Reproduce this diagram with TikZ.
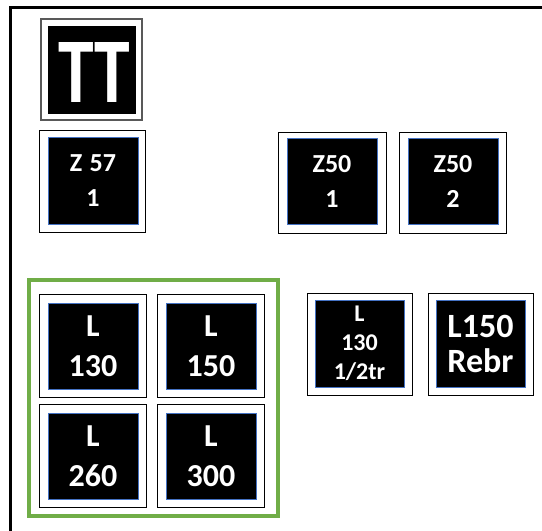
\documentclass[tikz,border=0pt]{standalone}
\usepackage{fontspec}
\setmainfont{Carlito}
\usepackage{graphicx}
\definecolor{tileblue}{RGB}{68,114,196}
\definecolor{grpgreen}{RGB}{112,173,71}
\begin{document}
\begin{tikzpicture}[x=1pt,y=-1pt,
  outerbox/.style={draw=black,line width=1pt,fill=white,inner sep=0pt,minimum width=#1},
  innerbox/.style={draw=tileblue,line width=1pt,fill=black,text=white,inner sep=0pt,align=center,font=\bfseries},
  tsmall/.style={font=\fontsize{26}{35}\selectfont\bfseries},
  tbig/.style={font=\fontsize{32}{40}\selectfont\bfseries},
  tthree/.style={font=\fontsize{24}{29}\selectfont\bfseries},
  trebr/.style={font=\fontsize{34}{35}\selectfont\bfseries}]
\useasboundingbox (0,0) rectangle (542,531);
\fill[white] (0,0) rectangle (542,531);
% frame
\draw[line width=3pt] (10.5,531) -- (10.5,7.5) -- (542,7.5);
% green group
\node[draw=grpgreen,line width=4pt,minimum width=249pt,minimum height=236pt,inner sep=0pt] (grp) at (153.5,398) {};
% TT
\node[draw=gray!70!black,line width=1.2pt,minimum width=101pt,minimum height=101pt,inner sep=0pt] (ttout) at (91.5,69.5) {};
\node[fill=black,minimum width=88pt,minimum height=88pt,inner sep=0pt] (ttin) at (92,70) {};
\node[text=white,inner sep=0pt] (tt) at (94,72) {\resizebox{72pt}{60pt}{\fontsize{80}{80}\selectfont\bfseries TT}};
% Z 57 1
\node[outerbox=106pt,minimum height=102pt] (z57o) at (92,181) {};
\node[innerbox,tsmall,minimum width=90pt,minimum height=87pt] (z57) at (93,180.5) {Z\hspace{0.28em}57\\1};
% Z50 1
\node[outerbox=108pt,minimum height=101pt] (z501o) at (332,182.5) {};
\node[innerbox,tsmall,minimum width=90pt,minimum height=86pt] (z501) at (332,181) {Z50\\1};
% Z50 2
\node[outerbox=107pt,minimum height=101pt] (z502o) at (452.5,182.5) {};
\node[innerbox,tsmall,minimum width=90pt,minimum height=86pt] (z502) at (453,181) {Z50\\2};
% L tiles in group
\node[outerbox=107pt,minimum height=103pt] (l130o) at (92.5,345.5) {};
\node[innerbox,tbig,minimum width=90pt,minimum height=86pt] (l130) at (93,346) {L\\130};
\node[outerbox=107pt,minimum height=103pt] (l150o) at (210.5,345.5) {};
\node[innerbox,tbig,minimum width=90pt,minimum height=86pt] (l150) at (211,346) {L\\150};
\node[outerbox=107pt,minimum height=103pt] (l260o) at (92.5,455.5) {};
\node[innerbox,tbig,minimum width=90pt,minimum height=86pt] (l260) at (93,456) {L\\260};
\node[outerbox=107pt,minimum height=103pt] (l300o) at (210.5,455.5) {};
\node[innerbox,tbig,minimum width=90pt,minimum height=86pt] (l300) at (211,456) {L\\300};
% L 130 1/2tr
\node[outerbox=105pt,minimum height=102pt] (lhalfo) at (359.5,344) {};
\node[innerbox,tthree,minimum width=89pt,minimum height=87pt] (lhalf) at (359.5,343.5) {L\\130\\1/2tr};
% L150 Rebr
\node[outerbox=105pt,minimum height=102pt] (lrebro) at (480.5,344) {};
\node[innerbox,trebr,minimum width=89pt,minimum height=87pt] (lrebr) at (480.5,343.5) {L150\\Rebr};
\end{tikzpicture}
\end{document}
